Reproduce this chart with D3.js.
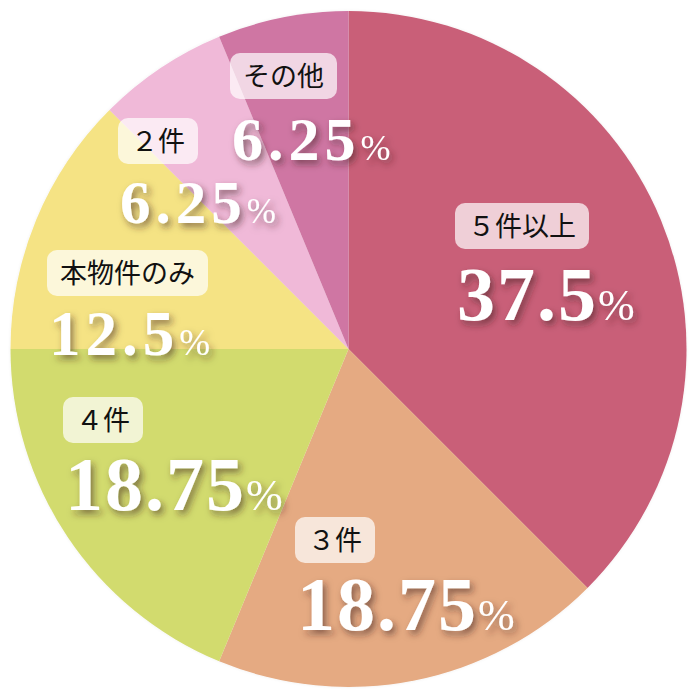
<!DOCTYPE html>
<html>
<head>
<meta charset="utf-8">
<script src="https://cdn.jsdelivr.net/npm/d3@7"></script>
<style>
  html, body { margin: 0; padding: 0; background: #fff; }
</style>
</head>
<body>
<div id="chart"></div>
<script>
// data
const categories = ["５件以上", "３件", "４件", "本物件のみ", "２件", "その他"];
const shares = [37.5, 18.75, 18.75, 12.5, 6.25, 6.25];

// styles / layout, kept apart from the data
const colors = ["#c95f78", "#e5aa82", "#d2db6e", "#f5e384", "#f0b9d8", "#cf76a3"];
// label box corner, number baseline, number size and tracking
const labelLayout = [
  {x: 455, y: 203, base: 320, size: 76, ls: 2},
  {x: 295, y: 517, base: 630, size: 76, ls: 2},
  {x: 63,  y: 397, base: 510, size: 76, ls: 2},
  {x: 47,  y: 250, base: 355, size: 63, ls: 5},
  {x: 118, y: 118, base: 223, size: 61, ls: 5},
  {x: 230, y: 53,  base: 160, size: 62, ls: 5}
];

const width = 700, height = 700;
const cx = 348.5, cy = 349, radius = 338;

const svg = d3.select("#chart").append("svg")
    .attr("width", width).attr("height", height)
    .attr("viewBox", "0 0 700 700");

const defs = svg.append("defs");
const shadow = defs.append("filter").attr("id", "numShadow")
    .attr("x", "-20%").attr("y", "-30%").attr("width", "150%").attr("height", "170%");
shadow.append("feDropShadow")
    .attr("dx", 3).attr("dy", 4).attr("stdDeviation", 3.5)
    .attr("flood-color", "#3a1a1a").attr("flood-opacity", 0.55);

const pieShadow = defs.append("filter").attr("id", "pieShadow")
    .attr("x", "-10%").attr("y", "-10%").attr("width", "120%").attr("height", "120%");
pieShadow.append("feDropShadow")
    .attr("dx", 0).attr("dy", 0).attr("stdDeviation", 1.5)
    .attr("flood-color", "#000").attr("flood-opacity", 0.07);

const rows = categories.map((c, i) => ({name: c, value: shares[i], color: colors[i], pos: labelLayout[i]}));

const pie = d3.pie().sort(null).value(d => d.value);
const arc = d3.arc().innerRadius(0).outerRadius(radius);

const slices = svg.append("g")
    .attr("transform", "translate(" + cx + "," + cy + ")")
    .attr("filter", "url(#pieShadow)");

slices.selectAll("path")
    .data(pie(rows))
    .enter().append("path")
    .attr("d", arc)
    .style("fill", d => d.data.color);

// labels
const labels = svg.append("g").selectAll("g")
    .data(rows)
    .enter().append("g");

labels.each(function(d){
    const g = d3.select(this);
    const p = d.pos;
    const boxH = 46;
    const box = g.append("rect")
        .attr("x", p.x).attr("y", p.y)
        .attr("height", boxH)
        .attr("rx", 10).attr("ry", 10)
        .style("fill", "#fff").style("fill-opacity", 0.7);
    const t = g.append("text")
        .attr("x", p.x + 13).attr("y", p.y + 33)
        .style("font-family", "'Noto Sans CJK JP', sans-serif")
        .style("font-size", "27px")
        .style("fill", "#111")
        .text(d.name);
    const tw = t.node().getComputedTextLength();
    box.attr("width", tw + 26);

    const num = g.append("text")
        .attr("x", p.x + 2)
        .attr("y", p.base)
        .attr("filter", "url(#numShadow)")
        .style("font-family", "'Liberation Serif', 'DejaVu Serif', serif")
        .style("font-weight", "bold")
        .style("font-size", p.size + "px")
        .style("letter-spacing", p.ls + "px")
        .style("fill", "#fff");
    num.append("tspan").text(String(d.value));
    num.append("tspan")
        .style("font-size", Math.round(p.size * 0.58) + "px")
        .style("font-weight", "normal")
        .style("letter-spacing", "0px")
        .text("%");
});
</script>
</body>
</html>
